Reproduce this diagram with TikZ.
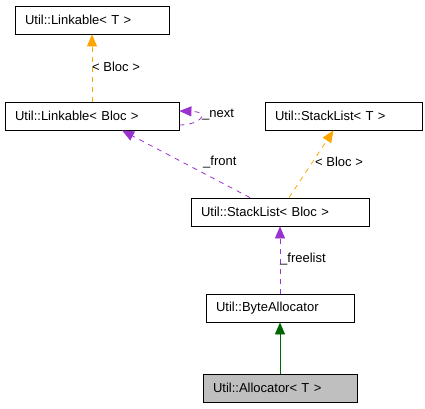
\documentclass[tikz,border=0pt]{standalone}
\usepackage{fontspec}
\setmainfont{Liberation Sans}
\usepackage{tikz}
\usetikzlibrary{arrows.meta}
\usepackage{xcolor}
\definecolor{dxorange}{HTML}{FFA500}
\definecolor{dxpurple}{HTML}{9A32CD}
\definecolor{dxgreen}{HTML}{006400}
\definecolor{dxgray}{HTML}{BFBFBF}

\begin{document}
\begin{tikzpicture}[x=1pt, y=-1pt, font=\fontsize{13}{15}\selectfont,
    cls/.style={draw, line width=0.8pt, align=left, text width=#1, inner xsep=10pt, inner ysep=0pt, minimum height=28pt},
    tmpl/.style={dxorange, line width=0.8pt, dash pattern=on 5pt off 5pt, -{Triangle[length=12pt, width=10pt]}},
    usage/.style={dxpurple, line width=0.8pt, dash pattern=on 5pt off 5pt, -{Triangle[length=12pt, width=10pt]}},
    inher/.style={dxgreen, line width=0.8pt, -{Triangle[length=12pt, width=10pt]}},
    lbl/.style={anchor=west, inner sep=0pt}]
        \useasboundingbox (0,0) rectangle (425,408);
        \node[cls=134pt] (linkT) at (92,20) {Util::Linkable< T >};
        \node[cls=154pt] (linkB) at (92,116) {Util::Linkable< Bloc >};
        \node[cls=137pt] (stackT) at (343.5,116) {Util::StackList< T >};
        \node[cls=158pt] (stackB) at (280,212) {Util::StackList< Bloc >};
        \node[cls=128pt] (byteA) at (280,308) {Util::ByteAllocator};
        \node[cls=134pt, fill=dxgray] (alloc) at (280,388) {Util::Allocator< T >};
        % template instances
        \draw[tmpl] (linkB) -- (linkT);
        \node[lbl] (lblA) at (92,67) {< Bloc >};
        \draw[tmpl] ([xshift=9pt]stackB.north) -- ([xshift=-10pt]stackT.south);
        \node[lbl] (lblB) at (315,162) {< Bloc >};
        % members
        \draw[usage] ([yshift=-9pt]linkB.east) .. controls (200,125) and (212,112) .. ([yshift=5pt]linkB.east);
        \node[lbl] (lblN) at (202,115) {\_next};
        \draw[usage] ([xshift=-30pt]stackB.north) -- ([xshift=30pt]linkB.south);
        \node[lbl] (lblF) at (203,162) {\_front};
        \draw[usage] (byteA) -- (stackB);
        \node[lbl] (lblL) at (280,259) {\_freelist};
        % base class
        \draw[inher] (alloc) -- (byteA);
\end{tikzpicture}
\end{document}
